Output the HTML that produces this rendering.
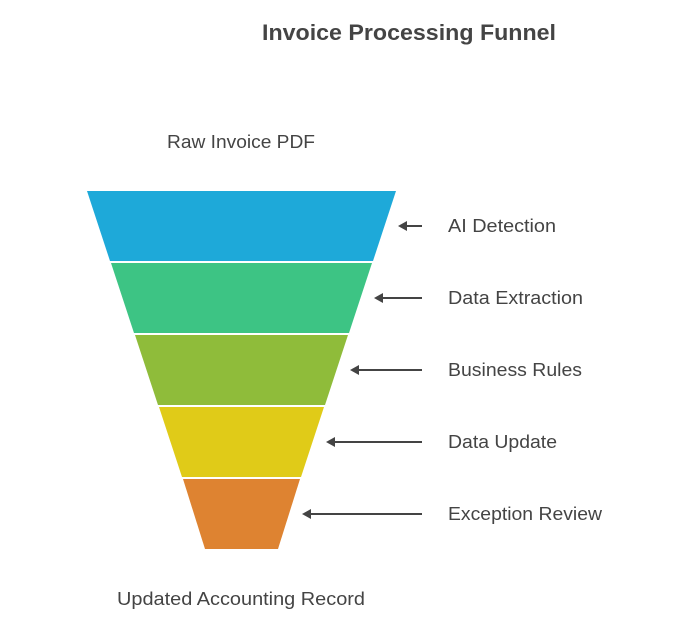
<!DOCTYPE html>
<html><head><style>
body{margin:0;background:#fff;width:690px;height:621px;overflow:hidden}
</style></head><body>
<svg width="690" height="621" xmlns="http://www.w3.org/2000/svg" font-family="Liberation Sans, sans-serif">
<text x="262" y="40" textLength="294" lengthAdjust="spacingAndGlyphs" font-size="22" font-weight="bold" fill="#444">Invoice Processing Funnel</text>
<text x="167" y="148" textLength="148" lengthAdjust="spacingAndGlyphs" font-size="18" fill="#444">Raw Invoice PDF</text>
<text x="117" y="605" textLength="248" lengthAdjust="spacingAndGlyphs" font-size="18" fill="#444">Updated Accounting Record</text>
<polygon points="87,191 396,191 373,261 110,261" fill="#1EA9D9"/>
<polygon points="111,263 372,263 349,333 134,333" fill="#3DC484"/>
<polygon points="135,335 348,335 325,405 158,405" fill="#8FBC3A"/>
<polygon points="159,407 324,407 301,477 182,477" fill="#E0CB18"/>
<polygon points="183,479 300,479 278,549 205,549" fill="#DE8331"/>
<g stroke="#444" stroke-width="2" fill="#444">
<line x1="404" y1="226" x2="422" y2="226"/><polygon points="398,226 407,221 407,231" stroke="none"/>
<line x1="380" y1="298" x2="422" y2="298"/><polygon points="374,298 383,293 383,303" stroke="none"/>
<line x1="356" y1="370" x2="422" y2="370"/><polygon points="350,370 359,365 359,375" stroke="none"/>
<line x1="332" y1="442" x2="422" y2="442"/><polygon points="326,442 335,437 335,447" stroke="none"/>
<line x1="308" y1="514" x2="422" y2="514"/><polygon points="302,514 311,509 311,519" stroke="none"/>
</g>
<g font-size="18" fill="#444" lengthAdjust="spacingAndGlyphs">
<text x="448" y="232" textLength="108" lengthAdjust="spacingAndGlyphs">AI Detection</text>
<text x="448" y="304" textLength="135" lengthAdjust="spacingAndGlyphs">Data Extraction</text>
<text x="448" y="376" textLength="134" lengthAdjust="spacingAndGlyphs">Business Rules</text>
<text x="448" y="448" textLength="109" lengthAdjust="spacingAndGlyphs">Data Update</text>
<text x="448" y="520" textLength="154" lengthAdjust="spacingAndGlyphs">Exception Review</text>
</g>
</svg>
</body></html>
